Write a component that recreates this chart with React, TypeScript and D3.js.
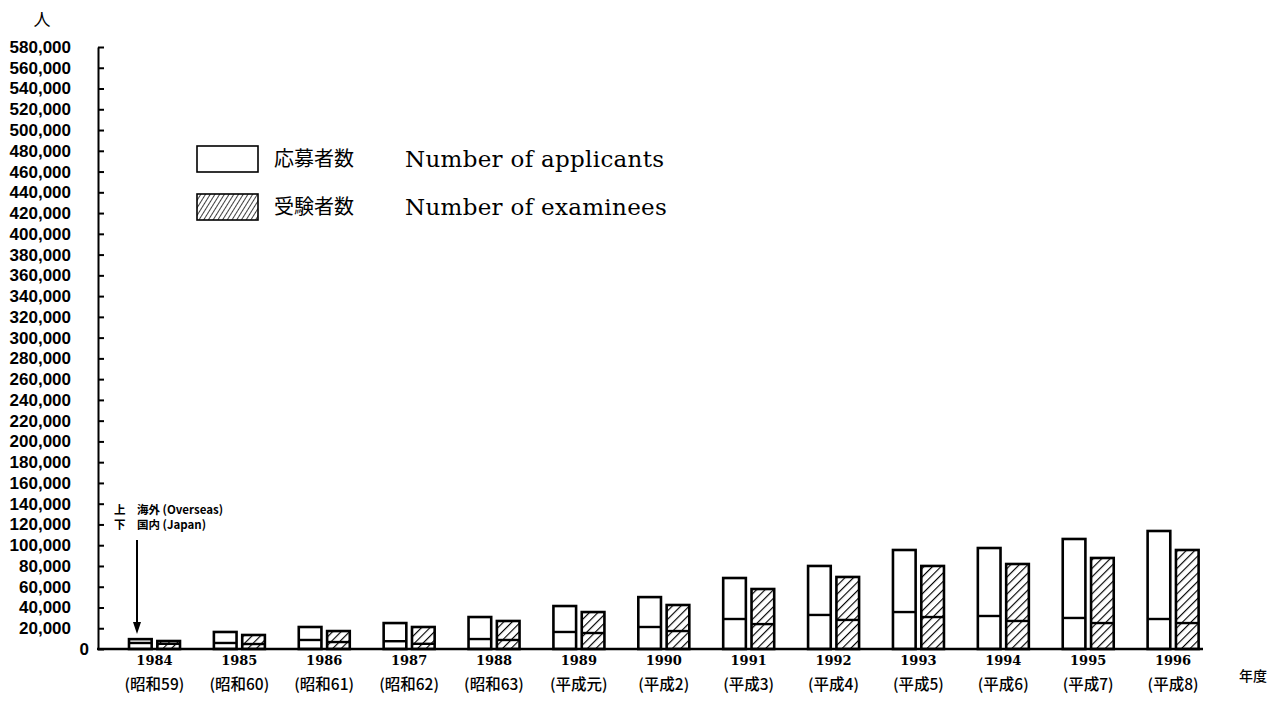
import { useRef, useEffect } from 'react';
import * as d3 from 'd3';

const years = ['1984', '1985', '1986', '1987', '1988', '1989', '1990', '1991', '1992', '1993', '1994', '1995', '1996'];
const eras = ['(昭和59)', '(昭和60)', '(昭和61)', '(昭和62)', '(昭和63)', '(平成元)', '(平成2)', '(平成3)', '(平成4)', '(平成5)', '(平成6)', '(平成7)', '(平成8)'];
// totals (Japan + overseas) and the Japan part at the bottom of each bar
const applicantsTotal = [9500, 16400, 21200, 25000, 30800, 41400, 50000, 68400, 80000, 95400, 97300, 106000, 113700];
const applicantsJapan = [5800, 5800, 8700, 7500, 9600, 16400, 21200, 28900, 32800, 35600, 31800, 29900, 28900];
const examineesTotal = [7700, 13500, 17300, 21200, 27000, 35600, 42400, 57800, 69400, 80000, 81900, 87700, 95400];
const examineesJapan = [5000, 4800, 6700, 5000, 8700, 15400, 17300, 24000, 28000, 30800, 27000, 25000, 25000];

const SERIES = ['applicants', 'examinees'];

export default function App() {
  const svgRef = useRef<SVGSVGElement>(null);

  useEffect(() => {
    if (!svgRef.current) return;
    const svg = d3.select(svgRef.current);
    svg.selectAll('*').remove();

    const axisX = 98;
    const y = d3.scaleLinear().domain([0, 580000]).range([649, 47]);
    const x = d3.scaleBand().domain(years).range([112, 1215.5]).padding(0);
    const xs = d3.scaleBand().domain(SERIES).range([17, 68]).paddingInner(0.2);

    const defs = svg.append('defs');
    defs.append('pattern')
      .attr('id', 'hatch').attr('patternUnits', 'userSpaceOnUse')
      .attr('width', 6).attr('height', 6).attr('patternTransform', 'rotate(45)')
      .call(p => p.append('rect').attr('width', 6).attr('height', 6).attr('fill', '#fff'))
      .append('line').attr('x1', 0).attr('y1', 0).attr('x2', 0).attr('y2', 6)
      .attr('stroke', '#000').attr('stroke-width', 2.3);
    defs.append('pattern')
      .attr('id', 'hatchLegend').attr('patternUnits', 'userSpaceOnUse')
      .attr('width', 4).attr('height', 4).attr('patternTransform', 'rotate(32)')
      .call(p => p.append('rect').attr('width', 4).attr('height', 4).attr('fill', '#fff'))
      .append('line').attr('x1', 0).attr('y1', 0).attr('x2', 0).attr('y2', 4)
      .attr('stroke', '#000').attr('stroke-width', 1.5);

    // y axis, ticks pointing into the plot
    const yAxis = d3.axisLeft(y)
      .tickValues(d3.range(0, 580001, 20000))
      .tickFormat(d3.format(','))
      .tickSizeInner(-6).tickSizeOuter(0).tickPadding(27);
    const ga = svg.append('g').attr('transform', `translate(${axisX},0)`).call(yAxis);
    ga.select('.domain').attr('stroke', '#000').attr('stroke-width', 2);
    ga.selectAll('.tick line').attr('stroke', '#000').attr('stroke-width', 2);
    ga.selectAll('.tick text')
      .attr('fill', '#000')
      .style('font-family', '"Liberation Sans", Arial, sans-serif')
      .style('font-size', '17px').style('font-weight', 'bold');
    ga.selectAll<SVGTextElement, number>('.tick text').filter(d => d === 0).attr('x', -9);

    svg.append('text').attr('x', 42).attr('y', 26).attr('text-anchor', 'middle')
      .style('font-family', '"Noto Sans CJK JP", sans-serif').style('font-size', '17px')
      .text('人');

    // bars
    const rows = years.map((yr, i) => ([
      { yr, key: 'applicants', total: applicantsTotal[i], japan: applicantsJapan[i] },
      { yr, key: 'examinees', total: examineesTotal[i], japan: examineesJapan[i] },
    ])).flat();

    const bars = svg.append('g').selectAll('g').data(rows).enter().append('g')
      .attr('transform', d => `translate(${(x(d.yr) as number) + (xs(d.key) as number)},0)`);
    bars.append('rect')
      .attr('x', 0).attr('width', xs.bandwidth())
      .attr('y', d => y(d.total)).attr('height', d => y(0) - y(d.total))
      .attr('fill', d => d.key === 'examinees' ? 'url(#hatch)' : '#fff')
      .attr('stroke', '#000').attr('stroke-width', 2.6);
    bars.append('line')
      .attr('x1', 0).attr('x2', xs.bandwidth())
      .attr('y1', d => y(d.japan)).attr('y2', d => y(d.japan))
      .attr('stroke', '#000').attr('stroke-width', 2.4);

    // baseline
    svg.append('line').attr('x1', axisX - 1).attr('x2', 1203)
      .attr('y1', y(0)).attr('y2', y(0))
      .attr('stroke', '#000').attr('stroke-width', 2.6);

    // x labels
    const xl = svg.append('g').selectAll('g').data(years).enter().append('g')
      .attr('transform', d => `translate(${(x(d) as number) + x.bandwidth() / 2},0)`);
    xl.append('text').attr('y', 665).attr('text-anchor', 'middle')
      .style('font-family', '"DejaVu Serif", serif')
      .style('font-size', '13px').style('font-weight', 'bold')
      .text(d => d);
    xl.append('text').attr('y', 690).attr('text-anchor', 'middle')
      .style('font-family', '"Noto Sans CJK JP", sans-serif')
      .style('font-size', '15.5px').style('font-weight', '500')
      .text((d, i) => eras[i]);
    svg.append('text').attr('x', 1253).attr('y', 681).attr('text-anchor', 'middle')
      .style('font-family', '"Noto Sans CJK JP", sans-serif')
      .style('font-size', '14px').style('font-weight', '500')
      .text('年度');

    // legend
    const legendItems = [
      { jp: '応募者数', en: 'Number of applicants', fill: '#fff' },
      { jp: '受験者数', en: 'Number of examinees', fill: 'url(#hatchLegend)' },
    ];
    const lg = svg.append('g').selectAll('g').data(legendItems).enter().append('g')
      .attr('transform', (d, i) => `translate(197,${159 + i * 48})`);
    lg.append('rect').attr('x', 0).attr('y', -13).attr('width', 61).attr('height', 26)
      .attr('fill', d => d.fill).attr('stroke', '#000').attr('stroke-width', 1.6);
    lg.append('text').attr('x', 77).attr('y', 7)
      .style('font-family', '"Noto Sans CJK JP", sans-serif').style('font-size', '20px')
      .text(d => d.jp);
    lg.append('text').attr('x', 208).attr('y', 8)
      .style('font-family', '"DejaVu Serif", serif').style('font-size', '23px')
      .style('letter-spacing', '0.3px')
      .text(d => d.en);

    // annotation: upper part overseas, lower part Japan
    const ann = svg.append('g')
      .style('font-family', '"Noto Sans CJK JP", sans-serif').style('font-size', '11.5px').style('font-weight', 'bold');
    ann.append('text').attr('x', 114).attr('y', 514).text('上');
    ann.append('text').attr('x', 137).attr('y', 514).text('海外 (Overseas)');
    ann.append('text').attr('x', 114).attr('y', 529).text('下');
    ann.append('text').attr('x', 137).attr('y', 529).text('国内 (Japan)');
    const ax = (x('1984') as number) + (xs('applicants') as number) + 8;
    svg.append('line').attr('x1', ax).attr('x2', ax).attr('y1', 540).attr('y2', 624)
      .attr('stroke', '#000').attr('stroke-width', 2);
    svg.append('path').attr('d', `M${ax - 4},622 L${ax + 4},622 L${ax},634 Z`).attr('fill', '#000');
  }, []);

  return (
    <svg ref={svgRef} width={1268} height={720}
      style={{ position: 'absolute', left: 0, top: 0, background: '#fff' }} />
  );
}
